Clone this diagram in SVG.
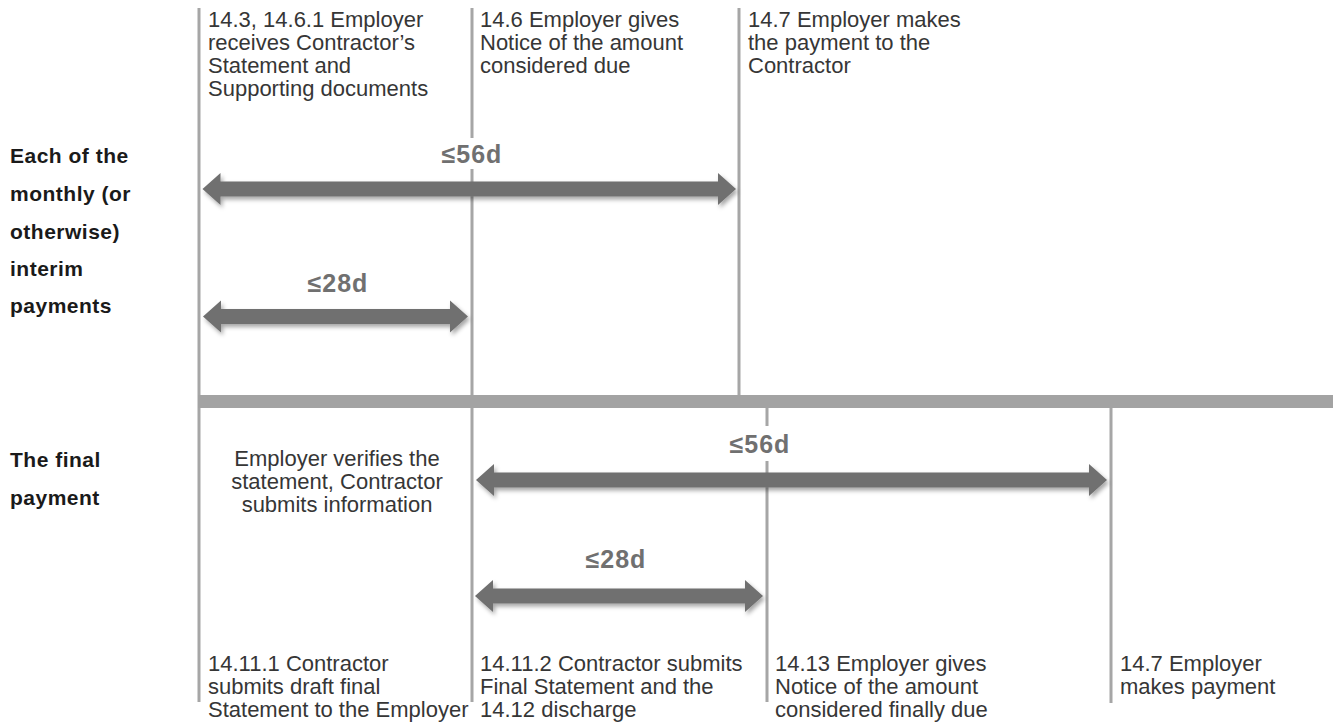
<svg xmlns="http://www.w3.org/2000/svg" width="1333" height="726" viewBox="0 0 1333 726">
<defs>
<style>
.txt{font-family:"Liberation Sans",Arial,sans-serif;font-size:22px;fill:#363636;}
.lbl{font-family:"Liberation Sans",Arial,sans-serif;font-size:21px;font-weight:bold;fill:#1a1a1a;letter-spacing:0.5px;}
.dur{font-family:"Liberation Sans",Arial,sans-serif;font-size:25px;font-weight:bold;fill:#707070;letter-spacing:1px;text-anchor:middle;}
.vline{stroke:#a6a6a6;stroke-width:3;fill:none;}
.arrow{fill:#6f6f6f;filter:url(#shadow);}
</style>
<filter id="shadow" x="-5%" y="-50%" width="110%" height="200%">
<feDropShadow dx="2" dy="3" stdDeviation="2" flood-color="#000000" flood-opacity="0.35"/>
</filter>
</defs>
<rect width="1333" height="726" fill="#ffffff"/>

<g id="timeline">
<line class="vline" x1="199" y1="8" x2="199" y2="702"/>
<line class="vline" x1="472" y1="8" x2="472" y2="702"/>
<line class="vline" x1="739" y1="8" x2="739" y2="396"/>
<line class="vline" x1="767" y1="407" x2="767" y2="702"/>
<line class="vline" x1="1111" y1="407" x2="1111" y2="703"/>
<rect x="198" y="395" width="1135" height="13" fill="#a3a3a3"/>
</g>

<g id="connectors">
<path class="arrow" d="M202.5,189 L220.5,173 L220.5,181.5 L718,181.5 L718,173 L736,189 L718,205 L718,196.5 L220.5,196.5 L220.5,205 Z"/>
<path class="arrow" d="M203,316.5 L221,300.5 L221,309 L450,309 L450,300.5 L468,316.5 L450,332.5 L450,324 L221,324 L221,332.5 Z"/>
<path class="arrow" d="M476,480 L494,464 L494,472.5 L1089,472.5 L1089,464 L1107,480 L1089,496 L1089,487.5 L494,487.5 L494,496 Z"/>
<path class="arrow" d="M475,596 L493,580 L493,588.5 L745,588.5 L745,580 L763,596 L745,612 L745,603.5 L493,603.5 L493,612 Z"/>
</g>

<g id="dur-top-56">
<rect x="438" y="138" width="67" height="31" fill="#ffffff"/>
<text class="dur" x="472" y="163">≤56d</text>
</g>
<g id="dur-top-28">
<text class="dur" x="338" y="292">≤28d</text>
</g>
<g id="dur-bottom-56">
<rect x="726" y="426" width="66" height="35" fill="#ffffff"/>
<text class="dur" x="760" y="453">≤56d</text>
</g>
<g id="dur-bottom-28">
<text class="dur" x="616" y="568">≤28d</text>
</g>

<g id="row-interim">
<text class="lbl" x="10" y="163">Each of the</text>
<text class="lbl" x="10" y="201">monthly (or</text>
<text class="lbl" x="10" y="239">otherwise)</text>
<text class="lbl" x="10" y="276">interim</text>
<text class="lbl" x="10" y="313">payments</text>
</g>
<g id="row-final">
<text class="lbl" x="10" y="467">The final</text>
<text class="lbl" x="10" y="505">payment</text>
</g>

<g id="event-14-3">
<text class="txt" x="208" y="27">14.3, 14.6.1 Employer</text>
<text class="txt" x="208" y="50">receives Contractor’s</text>
<text class="txt" x="208" y="73">Statement and</text>
<text class="txt" x="208" y="96">Supporting documents</text>
</g>
<g id="event-14-6">
<text class="txt" x="480" y="27">14.6 Employer gives</text>
<text class="txt" x="480" y="50">Notice of the amount</text>
<text class="txt" x="480" y="73">considered due</text>
</g>
<g id="event-14-7-interim">
<text class="txt" x="748" y="27">14.7 Employer makes</text>
<text class="txt" x="748" y="50">the payment to the</text>
<text class="txt" x="748" y="73">Contractor</text>
</g>

<g id="verify-note">
<text class="txt" x="337" y="466" text-anchor="middle">Employer verifies the</text>
<text class="txt" x="337" y="489" text-anchor="middle">statement, Contractor</text>
<text class="txt" x="337" y="512" text-anchor="middle">submits information</text>
</g>

<g id="event-14-11-1">
<text class="txt" x="208" y="671">14.11.1 Contractor</text>
<text class="txt" x="208" y="694">submits draft final</text>
<text class="txt" x="208" y="717">Statement to the Employer</text>
</g>
<g id="event-14-11-2">
<text class="txt" x="480" y="671">14.11.2 Contractor submits</text>
<text class="txt" x="480" y="694">Final Statement and the</text>
<text class="txt" x="480" y="717">14.12 discharge</text>
</g>
<g id="event-14-13">
<text class="txt" x="775" y="671">14.13 Employer gives</text>
<text class="txt" x="775" y="694">Notice of the amount</text>
<text class="txt" x="775" y="717">considered finally due</text>
</g>
<g id="event-14-7-final">
<text class="txt" x="1120" y="671">14.7 Employer</text>
<text class="txt" x="1120" y="694">makes payment</text>
</g>
</svg>
